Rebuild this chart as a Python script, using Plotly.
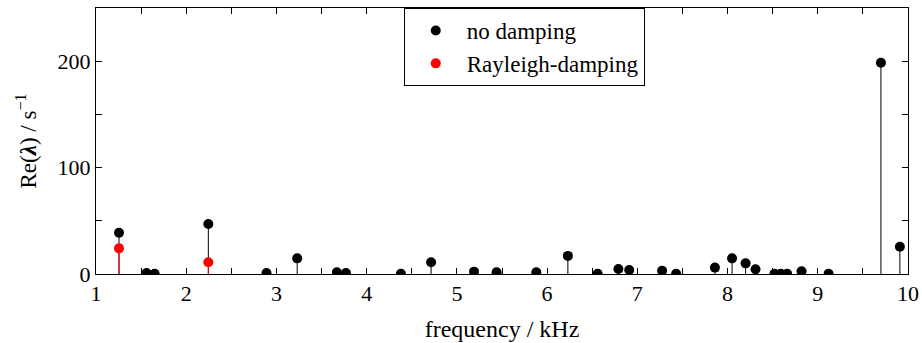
import plotly.graph_objects as go

# Data (frequency in kHz, Re(lambda) in 1/s)
freq_nodamp = [1.255, 1.56, 1.65, 2.245, 2.89, 3.23, 3.67, 3.77, 4.38, 4.714, 5.19, 5.44,
               5.88, 6.23, 6.56, 6.79, 6.91, 7.275, 7.43, 7.86, 8.05, 8.20, 8.31, 8.52,
               8.59, 8.66, 8.82, 9.12, 9.70, 9.91]
re_nodamp = [38.8, 1.0, 0.3, 47.0, 1.0, 14.7, 1.6, 1.0, 0.2, 11.0, 2.2, 1.6,
             1.6, 17.0, 0.2, 4.7, 3.8, 3.1, 0.2, 6.0, 14.7, 10.0, 4.4, 0.2,
             0.2, 0.2, 2.5, 0.2, 198.5, 25.6]
freq_rayleigh = [1.255, 2.245]
re_rayleigh = [24.1, 11.0]

x_ticks = [1, 2, 3, 4, 5, 6, 7, 8, 9, 10]
y_tickvals = [0, 50, 100, 150, 200, 250]
y_ticktext = ["0", "", "100", "", "200", ""]

FONT = "Liberation Serif, DejaVu Serif, serif"


def stems(xs, ys):
    sx, sy = [], []
    for x, y in zip(xs, ys):
        sx += [x, x, None]
        sy += [0, y, None]
    return sx, sy


fig = go.Figure()
sx, sy = stems(freq_nodamp, re_nodamp)
fig.add_trace(go.Scatter(x=sx, y=sy, mode="lines", line=dict(color="black", width=1),
                         showlegend=False, hoverinfo="skip"))
fig.add_trace(go.Scatter(x=freq_nodamp, y=re_nodamp, mode="markers",
                         marker=dict(color="black", size=10), name="no damping"))
sx, sy = stems(freq_rayleigh, re_rayleigh)
fig.add_trace(go.Scatter(x=sx, y=sy, mode="lines", line=dict(color="red", width=1),
                         showlegend=False, hoverinfo="skip"))
fig.add_trace(go.Scatter(x=freq_rayleigh, y=re_rayleigh, mode="markers",
                         marker=dict(color="red", size=10), name="Rayleigh-damping"))

fig.update_layout(
    width=922, height=343,
    margin=dict(l=96, r=14, t=8, b=69, autoexpand=False),
    paper_bgcolor="white", plot_bgcolor="white",
    font=dict(family=FONT, size=20, color="black"),
    legend=dict(x=0.379, y=1.0, xanchor="left", yanchor="top",
                bordercolor="black", borderwidth=1, bgcolor="white",
                font=dict(family=FONT, size=23), itemwidth=52,
                tracegroupgap=0),
    xaxis=dict(range=[1, 10], tickvals=x_ticks, ticks="inside", ticklen=6,
               tickcolor="black", showline=True, linecolor="black", linewidth=1,
               mirror="ticks", showgrid=False, zeroline=False, automargin=False,
               minor=dict(dtick=0.5, ticks="inside", ticklen=6, tickcolor="black", showgrid=False),
               title=dict(text="frequency / kHz", font=dict(family=FONT, size=24), standoff=14),
               tickfont=dict(family=FONT, size=22)),
    yaxis=dict(range=[0, 250], tickvals=y_tickvals, ticktext=y_ticktext,
               ticks="inside", ticklen=6, tickcolor="black", showline=True,
               linecolor="black", linewidth=1, mirror="ticks", showgrid=False,
               zeroline=False, automargin=False,
               title=dict(text="Re(<b><i>λ</i></b>) / s<sup>−1</sup>", font=dict(family=FONT, size=23), standoff=14),
               tickfont=dict(family=FONT, size=22)),
)

fig.write_html("out.html", post_script="document.body.style.margin='0';",
               config={"displayModeBar": False})
